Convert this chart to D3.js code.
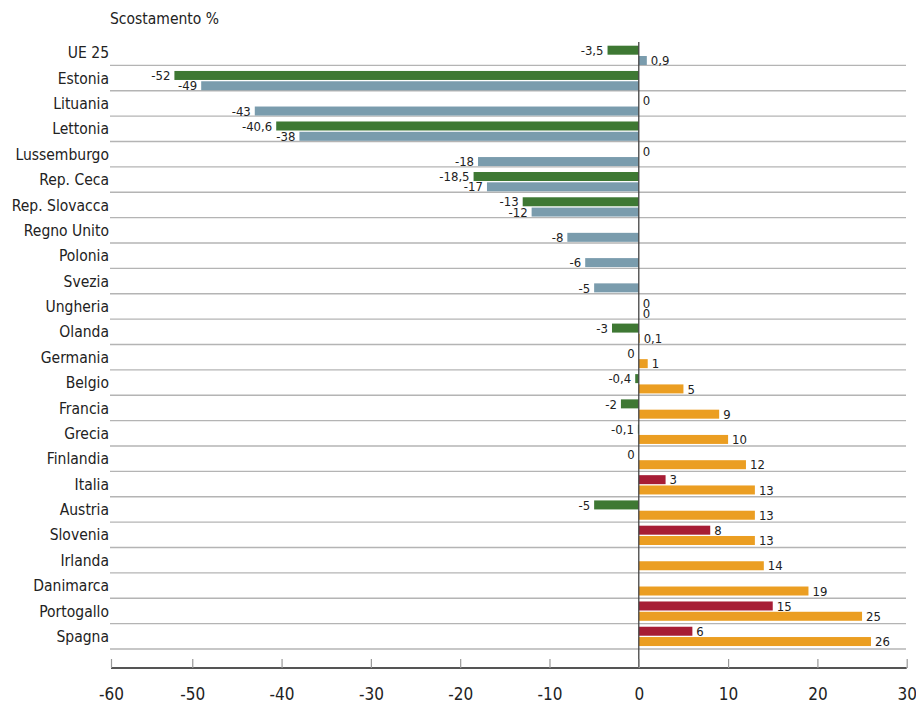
<!DOCTYPE html>
<html>
<head>
<meta charset="utf-8">
<script src="https://cdn.jsdelivr.net/npm/d3@7"></script>
<style>
  body { margin: 0; background: #fff; }
  svg text { font-family: "Liberation Sans Narrow", "DejaVu Sans Condensed", "Liberation Sans", sans-serif; font-stretch: condensed; fill: #222; }
</style>
</head>
<body>
<div id="chart"></div>
<script>
// categories, top to bottom
var paesi = ["UE 25", "Estonia", "Lituania", "Lettonia", "Lussemburgo", "Rep. Ceca",
             "Rep. Slovacca", "Regno Unito", "Polonia", "Svezia", "Ungheria", "Olanda",
             "Germania", "Belgio", "Francia", "Grecia", "Finlandia", "Italia", "Austria",
             "Slovenia", "Irlanda", "Danimarca", "Portogallo", "Spagna"];

// group of each country (A = upper block, B = lower block)
var gruppo = ["A", "A", "A", "A", "A", "A", "A", "A", "A", "A", "A", "B",
              "B", "B", "B", "B", "B", "B", "B", "B", "B", "B", "B", "B"];

// first series (upper bar), null = not available
var serie1 = [-3.5, -52, 0, -40.6, 0, -18.5, -13, null, null, null, 0, -3,
              0, -0.4, -2, -0.1, 0, 3, -5, 8, null, null, 15, 6];

// second series (lower bar)
var serie2 = [0.9, -49, -43, -38, -18, -17, -12, -8, -6, -5, 0, 0.1,
              1, 5, 9, 10, 12, 13, 13, 13, 14, 19, 25, 26];

var tickValori = [-60, -50, -40, -30, -20, -10, 0, 10, 20, 30];

var titolo = "Scostamento %";

//----------------------------------------------------------

var width = 916,
    height = 709,
    col = {
        verde: "#3e7833",
        rosso: "#a71d35",
        grigio: "#7a9cad",
        arancio: "#eb9e22"
    },
    fmt = function (v) { return String(v).replace(".", ","); },

    svg = d3.select("#chart").append("svg")
        .attr("width", width)
        .attr("height", height),

    x = d3.scaleLinear()
        .domain([-59.1, 30])
        .range([111, 906.7])
        .clamp(true),

    // rows (grid lines under each row)
    yRow = d3.scaleBand()
        .domain(paesi)
        .range([40, 649]),

    // bar slots drift a little less than rows in the original
    yBar = d3.scaleBand()
        .domain(paesi)
        .range([41.5, 647.8]),

    barH = 9,
    off1 = 4.2,
    off2 = 14.5,

    rows = paesi.map(function (p, i) {
        return { nome: p, g: gruppo[i], a: serie1[i], b: serie2[i] };
    }),

    bars = [];

rows.forEach(function (d) {
    if (d.a !== null) {
        bars.push({ nome: d.nome, g: d.g, v: d.a, s: 1,
                    c: d.a < 0 ? col.verde : col.rosso });
    }
    if (d.b !== null) {
        bars.push({ nome: d.nome, g: d.g, v: d.b, s: 2,
                    c: d.g === "A" ? col.grigio : col.arancio });
    }
});

// zero labels go to the left in the lower block
function aSinistra(d) {
    return d.v < 0 || (d.v === 0 && d.g === "B");
}

// title
svg.append("text")
    .attr("x", 110)
    .attr("y", 24)
    .attr("font-size", "15.5px")
    .text(titolo);

// grid lines
svg.append("g").selectAll("line")
    .data(paesi)
    .enter()
    .append("line")
    .attr("x1", 110)
    .attr("x2", 906)
    .attr("y1", function (d) { return yRow(d) + yRow.bandwidth(); })
    .attr("y2", function (d) { return yRow(d) + yRow.bandwidth(); })
    .attr("stroke", "#b4b4b4")
    .attr("stroke-width", 1.3);

// country labels
svg.append("g").selectAll("text")
    .data(paesi)
    .enter()
    .append("text")
    .attr("x", 109)
    .attr("y", function (d) { return yRow(d) + yRow.bandwidth() / 2; })
    .attr("dy", "0.36em")
    .attr("text-anchor", "end")
    .attr("font-size", "15.5px")
    .text(function (d) { return d; });

// bars
svg.append("g").selectAll("rect")
    .data(bars)
    .enter()
    .append("rect")
    .attr("x", function (d) { return x(Math.min(0, d.v)); })
    .attr("width", function (d) { return Math.abs(x(d.v) - x(0)); })
    .attr("y", function (d) { return yBar(d.nome) + (d.s === 1 ? off1 : off2); })
    .attr("height", barH)
    .attr("fill", function (d) { return d.c; });

// value labels
svg.append("g").selectAll("text")
    .data(bars)
    .enter()
    .append("text")
    .attr("font-size", "13px")
    .attr("x", function (d) { return aSinistra(d) ? x(d.v) - 4 : x(d.v) + 4; })
    .attr("text-anchor", function (d) { return aSinistra(d) ? "end" : "start"; })
    .attr("y", function (d) { return yBar(d.nome) + (d.s === 1 ? off1 : off2) + barH / 2; })
    .attr("dy", "0.36em")
    .text(function (d) { return fmt(d.v); });

// zero line
svg.append("line")
    .attr("x1", x(0))
    .attr("x2", x(0))
    .attr("y1", 42)
    .attr("y2", 668)
    .attr("stroke", "#444")
    .attr("stroke-width", 1.3);

// x axis
var axis = svg.append("g")
    .attr("transform", "translate(0,668)")
    .call(d3.axisTop(x)
        .tickValues(tickValori)
        .tickSize(9)
        .tickPadding(0)
        .tickFormat(function (d) { return String(d); }));

axis.select(".domain")
    .attr("d", "M111,0H906.7")
    .attr("stroke", "#555")
    .attr("stroke-width", 2);

axis.selectAll(".tick line")
    .attr("stroke", "#999")
    .attr("stroke-width", 1.2);

axis.selectAll(".tick text")
    .attr("y", 32)
    .attr("dy", 0)
    .attr("font-size", "17px")
    .attr("font-family", null);
</script>
</body>
</html>
